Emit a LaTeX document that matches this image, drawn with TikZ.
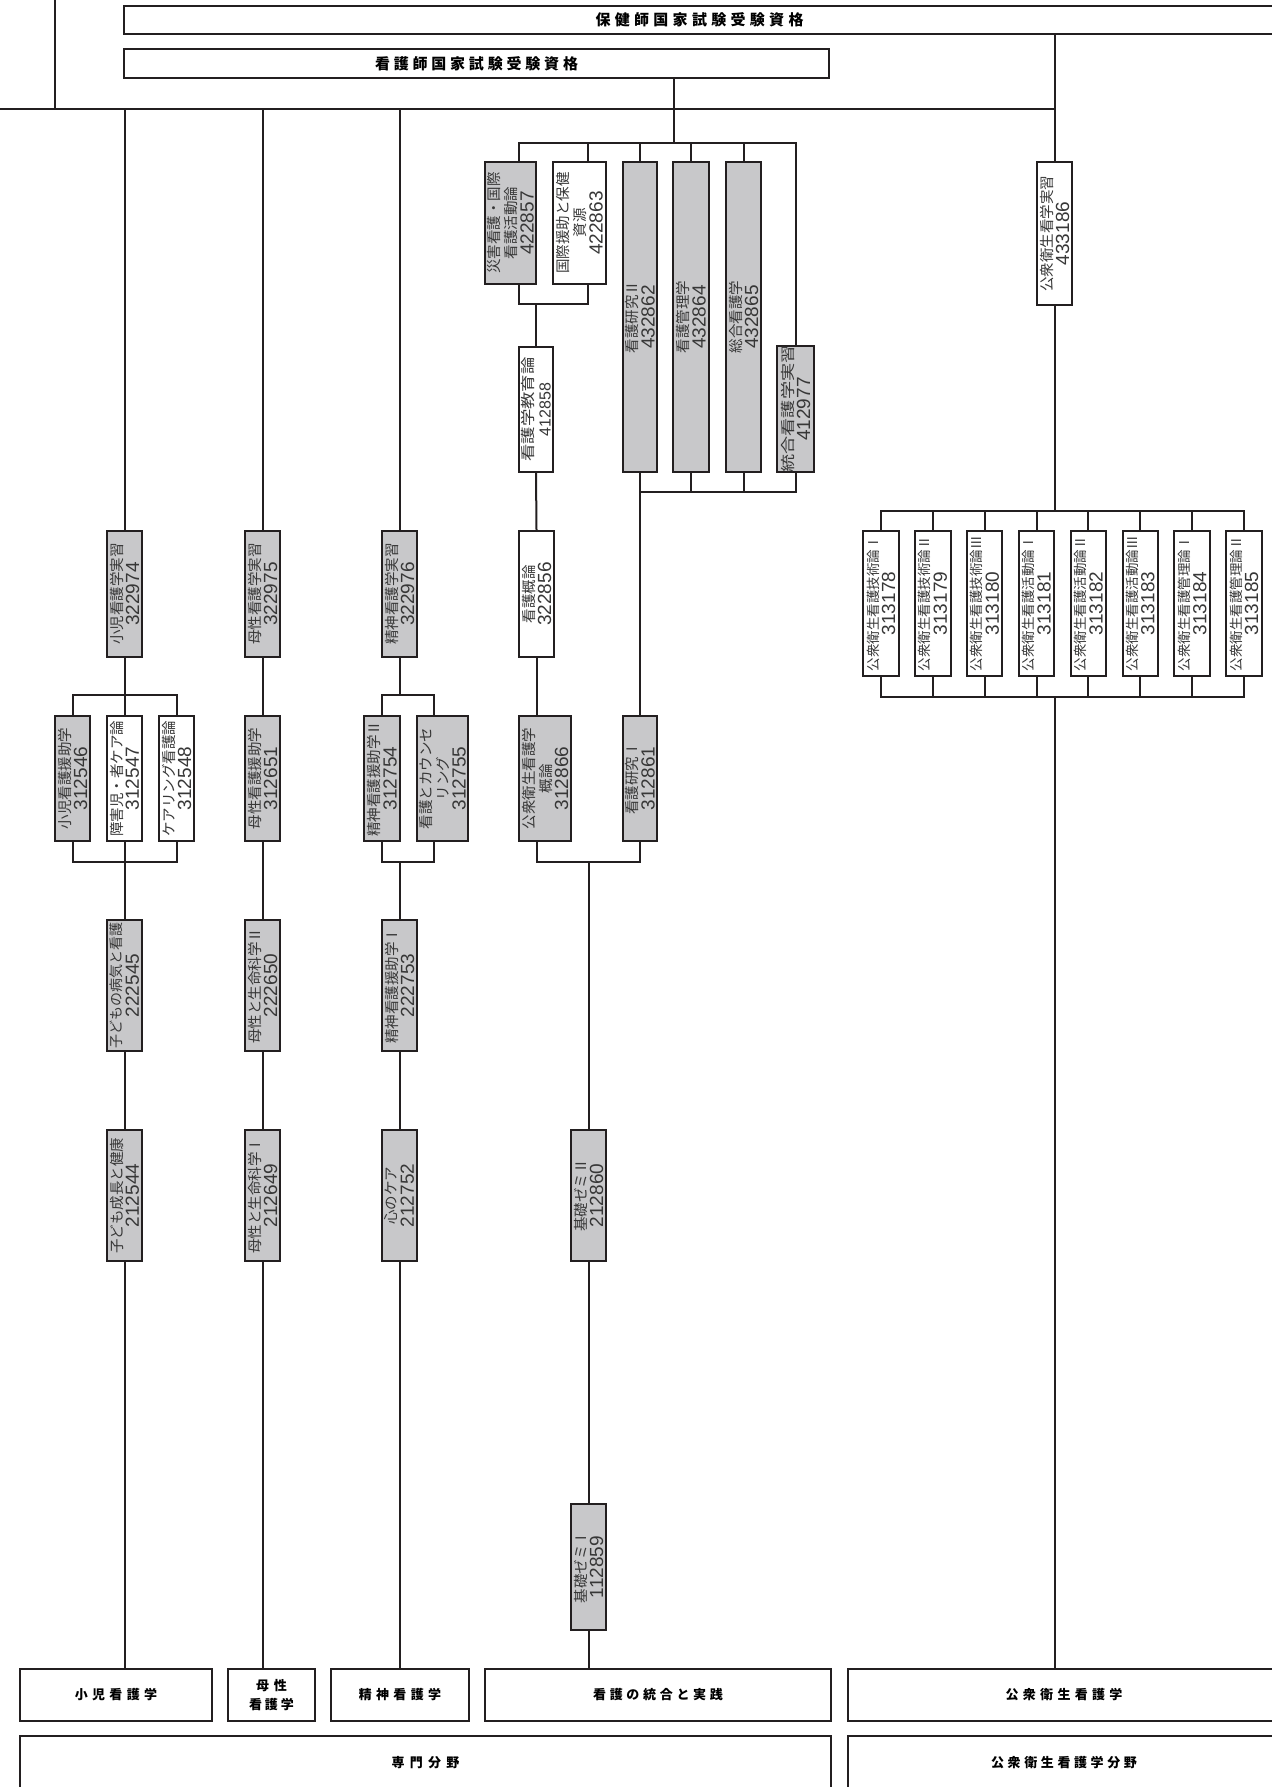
\documentclass[tikz,border=0pt]{standalone}
\usepackage{fontspec}
\usepackage{graphicx}
\newfontfamily\jpf{Noto Sans CJK JP}
\newfontfamily\numf{Liberation Sans}
\definecolor{ln}{RGB}{35,31,32}
\definecolor{gf}{RGB}{200,200,202}
\definecolor{tx}{RGB}{55,55,55}
\ExplSyntaxOn
\NewDocumentCommand{\spc}{mm}{
  \seq_clear:N \l_tmpa_seq
  \tl_map_inline:nn {#2} { \seq_put_right:Nn \l_tmpa_seq {##1} }
  \seq_use:Nn \l_tmpa_seq { \hspace{#1} }
}
\ExplSyntaxOff
\newcommand\nm[1]{{\numf\fontsize{19}{17}\selectfont #1}}
\newcommand\sx[2]{\scalebox{#1}[1]{#2}}
\tikzset{
  cn/.style={draw=ln, line width=2pt},
  cbox/.style={draw=ln, line width=2pt, rectangle, inner sep=0pt},
  gr/.style={fill=gf},
  wh/.style={fill=white},
  ctext/.style={rotate=90, align=center, text=tx, inner sep=0pt, font=\jpf\fontsize{14.5}{17}\selectfont},
  hbox/.style={draw=ln, line width=2pt, rectangle, inner sep=0pt, fill=white, align=center, font=\jpf\bfseries\fontsize{13}{19}\selectfont},
  htop/.style={hbox, font=\jpf\bfseries\fontsize{15}{19}\selectfont}
}
\newcommand\cb[7]{%
  \node[cbox,#6,minimum width={(#4)-(#2)},minimum height={(#5)-(#3)}] (#1) at ({((#2)+(#4))/2},{((#3)+(#5))/2}) {};
  \node[ctext] at (#1.center) {#7};
}
\newcommand\hb[7][hbox]{%
  \node[#1,minimum width={(#5)-(#3)},minimum height={(#6)-(#4)}] (#2) at ({((#3)+(#5))/2},{((#4)+(#6))/2}) {#7};
}
\begin{document}
\begin{tikzpicture}[x=1pt,y=-1pt]
\useasboundingbox (0,0) rectangle (1271,1787);
% ---------- top ----------
\coordinate (tlA) at (55,0);
\coordinate (tlB) at (55,109);
\coordinate (hl0) at (0,109);
\coordinate (hl1) at (1054.5,109);
\draw[cn] (tlA) -- (tlB);
\draw[cn] (hl0) -- (hl1);
\hb[htop]{hk}{124}{6}{1275}{34}{\spc{4.3pt}{保健師国家試験受験資格}}
\hb[htop]{kk}{124}{49}{829}{78}{\spc{3.8pt}{看護師国家試験受験資格}}
% ---------- bottom boxes ----------
\hb{bs}{20}{1669}{212}{1721}{\spc{4.3pt}{小児看護学}}
\hb{bb}{228}{1669}{315}{1721}{\spc{5pt}{母性}\\\spc{3pt}{看護学}}
\hb{be}{331}{1669}{469}{1721}{\spc{4.3pt}{精神看護学}}
\hb{bt}{485}{1669}{831}{1721}{\spc{3.7pt}{看護の統合と実践}}
\hb{bk}{848}{1669}{1280}{1721}{\spc{4.3pt}{公衆衛生看護学}}
\hb{bsm}{20}{1736}{831}{1790}{\spc{5.3pt}{専門分野}}
\hb{bkb}{848}{1736}{1280}{1790}{\spc{3.6pt}{公衆衛生看護学分野}}
% ---------- 小児 ----------
\cb{sj}{107}{531}{142}{657}{gr}{小児看護学実習\\\nm{322974}}
\cb{se}{55}{716}{90}{841}{gr}{小児看護援助学\\\nm{312546}}
\cb{sc}{107}{716}{142}{841}{wh}{障害児・者ケア論\\\nm{312547}}
\cb{sk}{159}{716}{194}{841}{wh}{ケアリング看護論\\\nm{312548}}
\cb{sb}{107}{920}{142}{1051}{gr}{{\fontsize{14}{17}\selectfont 子どもの病気と看護}\\\nm{222545}}
\cb{ss}{107}{1130}{142}{1261}{gr}{子ども成長と健康\\\nm{212544}}
\draw[cn] (sj.north |- hl0) -- (sj.north);
\draw[cn] (sj.south) -- (sc.north);
\draw[cn] (se.north) -- ++(0,-20) -| (sk.north);
\draw[cn] (se.south) -- ++(0,20) -| (sk.south);
\draw[cn] (sc.south) -- (sb.north);
\draw[cn] (sb.south) -- (ss.north);
\draw[cn] (ss.south) -- (ss.south |- bs.north);
% ---------- 母性 ----------
\cb{bj}{245}{531}{280}{657}{gr}{母性看護学実習\\\nm{322975}}
\cb{bje}{245}{716}{280}{841}{gr}{母性看護援助学\\\nm{312651}}
\cb{b2}{245}{920}{280}{1051}{gr}{母性と生命科学Ⅱ\\\nm{222650}}
\cb{b1}{245}{1130}{280}{1261}{gr}{母性と生命科学Ⅰ\\\nm{212649}}
\draw[cn] (bj.north |- hl0) -- (bj.north);
\draw[cn] (bj.south) -- (bje.north);
\draw[cn] (bje.south) -- (b2.north);
\draw[cn] (b2.south) -- (b1.north);
\draw[cn] (b1.south) -- (b1.south |- bb.north);
% ---------- 精神 ----------
\cb{ej}{382}{531}{417}{657}{gr}{精神看護学実習\\\nm{322976}}
\cb{e2}{364}{716}{400}{841}{gr}{精神看護援助学Ⅱ\\\nm{312754}}
\cb{ec}{417}{716}{468}{841}{gr}{看護とカウンセ\\リング\\\nm{312755}}
\cb{e1}{382}{920}{417}{1051}{gr}{精神看護援助学Ⅰ\\\nm{222753}}
\cb{ek}{382}{1130}{417}{1261}{gr}{心のケア\\\nm{212752}}
\draw[cn] (ej.north |- hl0) -- (ej.north);
\draw[cn] (ej.south) -- (ej.south |- 0,696);
\draw[cn] (e2.north) -- ++(0,-20) -| (434,0 |- ec.north);
\draw[cn] (e2.south) -- ++(0,20) -| (434,0 |- ec.south);
\draw[cn] (e1.north |- 0,861) -- (e1.north);
\draw[cn] (e1.south) -- (ek.north);
\draw[cn] (ek.south) -- (ek.south |- be.north);
% ---------- 統合 ----------
\coordinate (tt) at (674,143);
\cb{tsa}{485}{162}{536}{284}{gr}{災害看護・国際\\看護活動論\\\nm{422857}}
\cb{tko}{553}{162}{606}{284}{wh}{国際援助と保健\\資源\\\nm{422863}}
\cb{tk2}{623}{162}{657}{472}{gr}{看護研究Ⅱ\\\nm{432862}}
\cb{tkn}{673}{162}{709}{472}{gr}{看護管理学\\\nm{432864}}
\cb{tso}{726}{162}{761}{472}{gr}{総合看護学\\\nm{432865}}
\cb{tjs}{777}{346}{814}{472}{gr}{\sx{1.25}{統合看護学実習}\\\nm{412977}}
\cb{tky}{519}{347}{553}{472}{wh}{\sx{1.2}{看護学教育論}\\{\numf\fontsize{16}{17}\selectfont 412858}}
\cb{tga}{519}{531}{554}{657}{wh}{看護概論\\\nm{322856}}
\cb{tkh}{519}{716}{571}{841}{gr}{公衆衛生看護学\\概論\\\nm{312866}}
\cb{tk1}{623}{716}{657}{841}{gr}{看護研究Ⅰ\\\nm{312861}}
\cb{tz2}{571}{1130}{606}{1261}{gr}{基礎ゼミⅡ\\\nm{212860}}
\cb{tz1}{571}{1504}{606}{1630}{gr}{基礎ゼミⅠ\\\nm{112859}}
\draw[cn] (kk.south -| tt) -- (tt);
\draw[cn] (519,0 |- tsa.north) |- (tjs.north |- tt) -- (tjs.north);
\draw[cn] (588,0 |- tt) -- (588,0 |- tko.north);
\draw[cn] (tk2.north |- tt) -- (tk2.north);
\draw[cn] (tkn.north |- tt) -- (tkn.north);
\draw[cn] (tso.north |- tt) -- (tso.north);
\draw[cn] (519,0 |- tsa.south) -- (519,304) -| (588,0 |- tko.south);
\draw[cn] (tky.north |- 0,304) -- (tky.north);
\draw[cn] (tky.south) -- (tga.north);
\draw[cn] (tga.south) -- (tga.south |- tkh.north);
\draw[cn] (tk2.south) -- ++(0,19) -| (tjs.south);
\draw[cn] (tkn.south) -- ++(0,19);
\draw[cn] (tso.south) -- ++(0,19);
\draw[cn] (tk2.south) -- (tk1.north);
\draw[cn] (tga.south |- tkh.south) -- ++(0,20) -| (tk1.south);
\draw[cn] (tz2.north |- 0,861) -- (tz2.north);
\draw[cn] (tz2.south) -- (tz1.north);
\draw[cn] (tz1.south) -- (tz1.south |- bt.north);
% ---------- 公衆衛生 ----------
\cb{kj}{1037}{162}{1072}{305}{wh}{公衆衛生看学実習\\\nm{433186}}
\foreach \i/\kt/\kn in {1/技術論Ⅰ/313178,2/技術論Ⅱ/313179,3/技術論Ⅲ/313180,4/活動論Ⅰ/313181,5/活動論Ⅱ/313182,6/活動論Ⅲ/313183,7/管理論Ⅰ/313184,8/管理論Ⅱ/313185}{
  \cb{k\i}{881+51.86*(\i-1)-17.75}{531}{881+51.86*(\i-1)+17.75}{676}{wh}{{\fontsize{13.5}{17}\selectfont 公衆衛生看護\kt}\\\nm{\kn}}
}
\draw[cn] (hk.south -| kj.north) -- (kj.north);
\draw[cn] (kj.south) -- (kj.south |- 0,512);
\draw[cn] (k1.north) -- ++(0,-19) -| (k8.north);
\foreach \i in {2,...,7} \draw[cn] (k\i.north) -- ++(0,-19);
\draw[cn] (k1.south) -- ++(0,20) -| (k8.south);
\foreach \i in {2,...,7} \draw[cn] (k\i.south) -- ++(0,20);
\draw[cn] (kj.south |- 0,696) -- (kj.south |- bk.north);
\end{tikzpicture}
\end{document}
